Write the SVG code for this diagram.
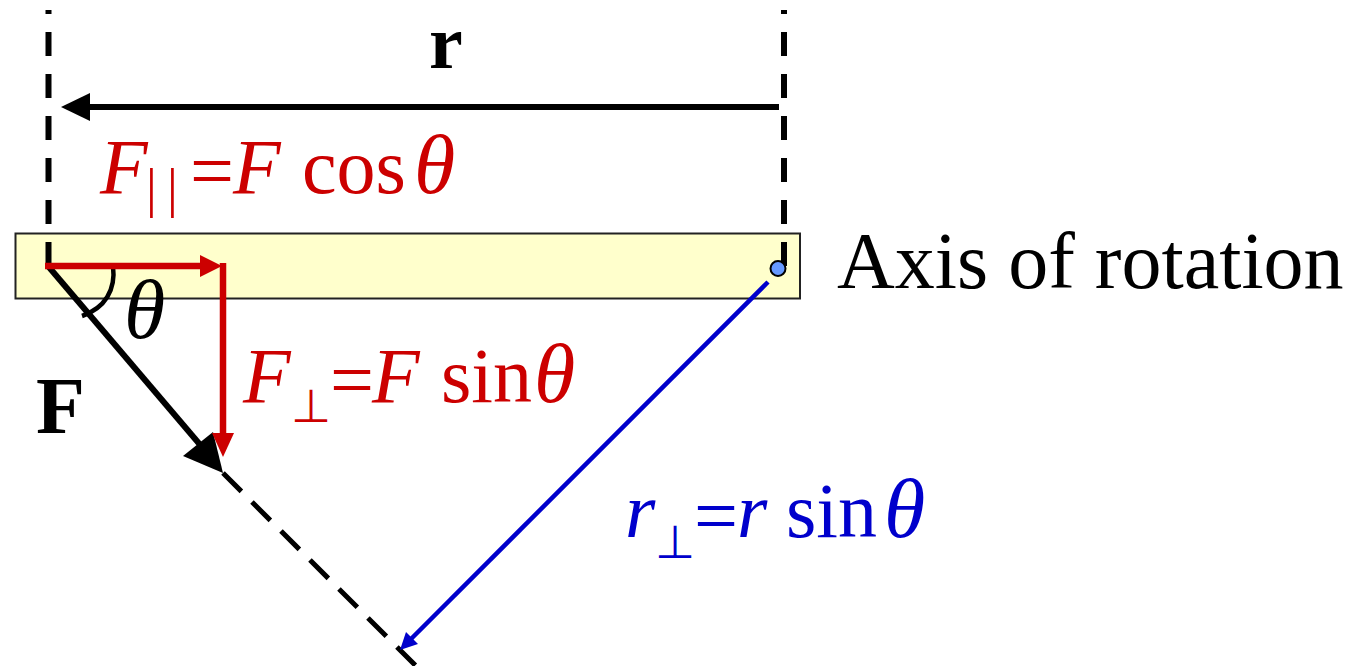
<svg xmlns="http://www.w3.org/2000/svg" width="1357" height="666" viewBox="0 0 1357 666">
<style>
.t{font-family:"Liberation Serif","Times New Roman",serif;}
.i{font-style:italic;}
.b{font-weight:bold;}
.red{fill:#CC0000;}
.blue{fill:#0000CC;}
.blk{fill:#000000;}
.th{font-style:italic;font-size:84px;}
.sym{font-family:"DejaVu Sans",sans-serif;font-style:normal;font-size:46px;}
.dash{stroke:#000;stroke-width:6;stroke-dasharray:24 18;stroke-dashoffset:20;fill:none;}
</style>
<rect width="1357" height="666" fill="#FFFFFF"/>
<g id="bar">
  <rect x="15.5" y="233.5" width="784.5" height="65" fill="#FFFFCC" stroke="#222222" stroke-width="2"/>
</g>
<g id="connectors">
  <line class="dash" x1="48.5" y1="10" x2="48.5" y2="266"/>
  <line class="dash" x1="784" y1="10" x2="784" y2="268"/>
  <line x1="779" y1="107" x2="86" y2="107" stroke="#000" stroke-width="6"/>
  <polygon points="61,107 90,93 90,121" fill="#000"/>
  <line x1="48" y1="266" x2="202" y2="447" stroke="#000" stroke-width="6"/>
  <polygon points="223,473 183,456 213,432" fill="#000"/>
  <line x1="223" y1="473" x2="420" y2="670" stroke="#000" stroke-width="5" stroke-dasharray="26 15"/>
  <path d="M113,266 C116,290 105,308 82,316" fill="none" stroke="#000" stroke-width="4.5"/>
  <line x1="45" y1="266" x2="202" y2="266" stroke="#CC0000" stroke-width="6.5"/>
  <polygon points="222,266 200,255 200,277" fill="#CC0000"/>
  <line x1="223" y1="263" x2="223" y2="436" stroke="#CC0000" stroke-width="6.5"/>
  <polygon points="223,457 212,433 234,433" fill="#CC0000"/>
  <line x1="768" y1="282" x2="410" y2="640" stroke="#0000CC" stroke-width="4.5"/>
  <polygon points="400,650 406,632 418,644" fill="#0000CC"/>
</g>
<g id="axis">
  <circle cx="778" cy="268.5" r="7.5" fill="#6699FF" stroke="#000" stroke-width="2"/>
  <text class="t blk" x="837" y="288" font-size="80">Axis of rotation</text>
</g>
<g id="label-r">
  <text class="t b blk" x="429" y="68" font-size="76">r</text>
</g>
<g id="label-F">
  <text class="t b blk" x="36" y="433" font-size="80">F</text>
</g>
<g id="label-theta">
  <text class="t th blk" x="124" y="338">θ</text>
</g>
<g id="label-Fpar">
  <text class="t red" font-size="78"><tspan class="i" x="100" y="193">F</tspan><tspan x="146 167" y="206" font-size="54">||</tspan><tspan x="190" y="196.5">=</tspan><tspan class="i" x="233" y="193">F</tspan><tspan x="302" y="193">cos</tspan><tspan class="th" x="414" y="193">θ</tspan></text>
</g>
<g id="label-Fperp">
  <text class="t red" font-size="78"><tspan class="i" x="243" y="402">F</tspan><tspan class="sym" x="291" y="422">⊥</tspan><tspan x="330" y="405.5">=</tspan><tspan class="i" x="372" y="402">F</tspan><tspan x="441" y="402">sin</tspan><tspan class="th" x="534" y="402">θ</tspan></text>
</g>
<g id="label-rperp">
  <text class="t blue" font-size="78"><tspan class="i" x="625" y="537">r</tspan><tspan class="sym" x="655" y="558">⊥</tspan><tspan x="694" y="541.5">=</tspan><tspan class="i" x="737" y="537">r</tspan><tspan x="786" y="537">sin</tspan><tspan class="th" x="884" y="537">θ</tspan></text>
</g>
</svg>
